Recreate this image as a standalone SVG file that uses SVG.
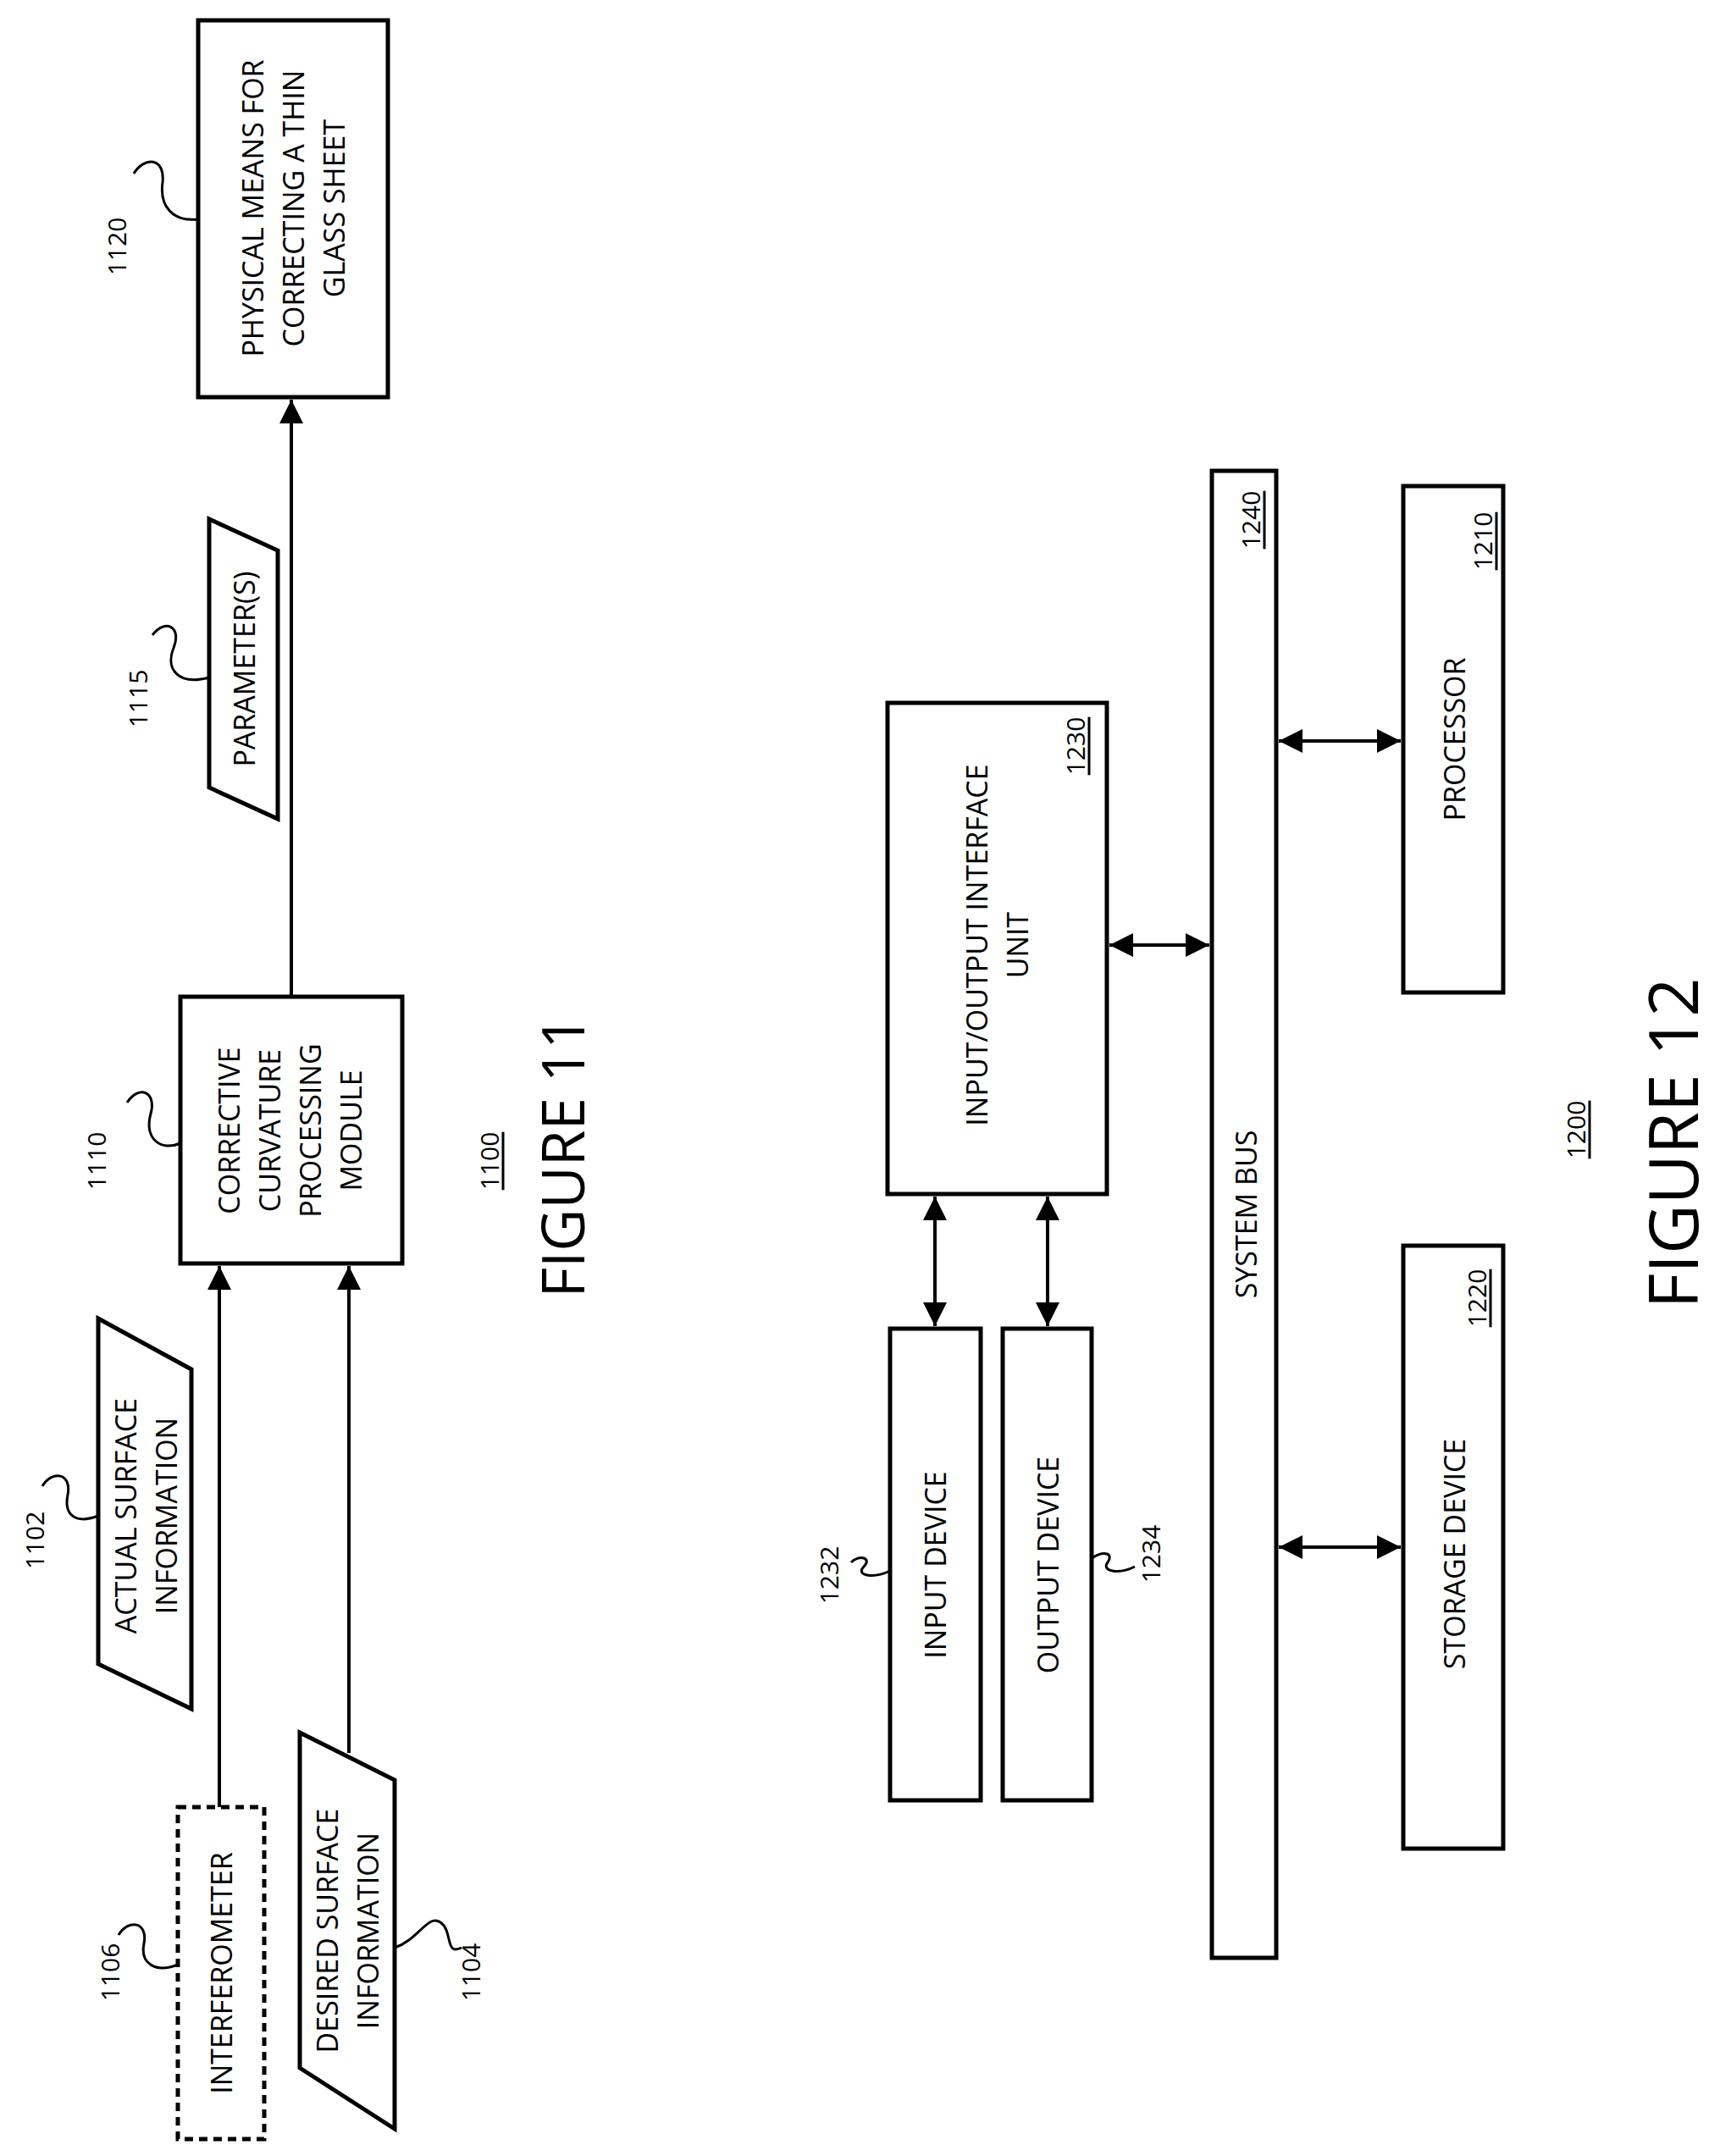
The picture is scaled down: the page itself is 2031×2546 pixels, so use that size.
<svg xmlns="http://www.w3.org/2000/svg" width="2031" height="2546" viewBox="0 0 2031 2546">
<defs>
<marker id="ah" viewBox="0 0 10 10" refX="10" refY="5" markerWidth="7" markerHeight="7" orient="auto-start-reverse" markerUnits="strokeWidth"><path d="M0,0L10,5L0,10z" fill="#000"/></marker>
<style>
.b{fill:#fff;stroke:#000;stroke-width:5}
.t{font-family:"Open Sans","Liberation Sans",sans-serif;font-size:34px;text-anchor:middle;dominant-baseline:central}
.l{font-family:"Open Sans","Liberation Sans",sans-serif;font-size:30px;text-anchor:middle;dominant-baseline:central}
.u{text-decoration:underline}
.c{fill:none;stroke:#000;stroke-width:4}
.s{fill:none;stroke:#000;stroke-width:3}
.f{font-family:"Open Sans","Liberation Sans",sans-serif;font-size:69px;text-anchor:middle;dominant-baseline:central}
</style>
</defs>
<rect width="2031" height="2546" fill="#fff"/>
<g id="connectors">
<line class="c" x1="344" y1="1177" x2="344" y2="472" marker-end="url(#ah)"/>
<line class="c" x1="259" y1="2134" x2="259" y2="1495" marker-end="url(#ah)"/>
<line class="c" x1="412" y1="2070" x2="412" y2="1495" marker-end="url(#ah)"/>
<line class="c" x1="1310" y1="1116" x2="1428" y2="1116" marker-start="url(#ah)" marker-end="url(#ah)"/>
<line class="c" x1="1510" y1="875" x2="1654" y2="875" marker-start="url(#ah)" marker-end="url(#ah)"/>
<line class="c" x1="1510" y1="1827" x2="1654" y2="1827" marker-start="url(#ah)" marker-end="url(#ah)"/>
<line class="c" x1="1104" y1="1413" x2="1104" y2="1566" marker-start="url(#ah)" marker-end="url(#ah)"/>
<line class="c" x1="1237" y1="1413" x2="1237" y2="1566" marker-start="url(#ah)" marker-end="url(#ah)"/>
</g>
<g id="n1120">
<rect class="b" x="234" y="24" width="224" height="445"/>
<text class="t" transform="translate(298,246) rotate(-90)">PHYSICAL MEANS FOR</text>
<text class="t" transform="translate(346,246) rotate(-90)">CORRECTING A THIN</text>
<text class="t" transform="translate(394,246) rotate(-90)">GLASS SHEET</text>
<path class="s" d="M158,205 C170,185 195,185 192,215 C188,245 205,262 234,259"/>
<text class="l" transform="translate(137,291) rotate(-90)">1120</text>
</g>
<g id="n1115">
<path class="b" d="M247,613 L328,650 L328,967 L247,930 Z"/>
<text class="t" transform="translate(288,790) rotate(-90)">PARAMETER(S)</text>
<path class="s" d="M180,750 C195,730 215,740 205,765 C195,790 210,810 247,800"/>
<text class="l" transform="translate(162,825) rotate(-90)">1115</text>
</g>
<g id="n1110">
<rect class="b" x="213" y="1177" width="262" height="315"/>
<text class="t" transform="translate(270,1335) rotate(-90)">CORRECTIVE</text>
<text class="t" transform="translate(318,1335) rotate(-90)">CURVATURE</text>
<text class="t" transform="translate(366,1335) rotate(-90)">PROCESSING</text>
<text class="t" transform="translate(414,1335) rotate(-90)">MODULE</text>
<path class="s" d="M150,1302 C165,1280 185,1290 178,1315 C170,1345 190,1360 213,1350"/>
<text class="l" transform="translate(113,1371) rotate(-90)">1110</text>
</g>
<g id="fig11">
<text class="l u" transform="translate(577,1371) rotate(-90)">1100</text>
<text class="f" transform="translate(663,1366) rotate(-90)">FIGURE 11</text>
</g>
<g id="n1102">
<path class="b" d="M116,1557 L226,1617 L226,2018 L116,1965 Z"/>
<text class="t" transform="translate(148,1790) rotate(-90)">ACTUAL SURFACE</text>
<text class="t" transform="translate(196,1790) rotate(-90)">INFORMATION</text>
<path class="s" d="M50,1755 C62,1735 85,1740 80,1765 C75,1790 90,1800 116,1790"/>
<text class="l" transform="translate(40,1819) rotate(-90)">1102</text>
</g>
<g id="n1106">
<rect class="b" x="210" y="2134" width="102" height="392" stroke-dasharray="10,7"/>
<text class="t" transform="translate(261,2330) rotate(-90)">INTERFEROMETER</text>
<path class="s" d="M140,2285 C152,2265 175,2270 170,2295 C165,2320 185,2330 210,2320"/>
<text class="l" transform="translate(129,2329) rotate(-90)">1106</text>
</g>
<g id="n1104">
<path class="b" d="M354,2046 L466,2102 L466,2514 L354,2442 Z"/>
<text class="t" transform="translate(386,2280) rotate(-90)">DESIRED SURFACE</text>
<text class="t" transform="translate(434,2280) rotate(-90)">INFORMATION</text>
<path class="s" d="M466,2300 C495,2290 505,2260 520,2270 C535,2280 525,2310 545,2300"/>
<text class="l" transform="translate(555,2329) rotate(-90)">1104</text>
</g>
<g id="n1230">
<rect class="b" x="1048" y="830" width="259" height="580"/>
<text class="t" transform="translate(1153,1116) rotate(-90)">INPUT/OUTPUT INTERFACE</text>
<text class="t" transform="translate(1201,1116) rotate(-90)">UNIT</text>
<text class="l u" transform="translate(1269,881) rotate(-90)">1230</text>
</g>
<g id="n1240">
<rect class="b" x="1431" y="556" width="76" height="1756"/>
<text class="t" transform="translate(1471,1434) rotate(-90)">SYSTEM BUS</text>
<text class="l u" transform="translate(1476,614) rotate(-90)">1240</text>
</g>
<g id="n1210">
<rect class="b" x="1657" y="574" width="118" height="598"/>
<text class="t" transform="translate(1717,873) rotate(-90)">PROCESSOR</text>
<text class="l u" transform="translate(1750,639) rotate(-90)">1210</text>
</g>
<g id="n1220">
<rect class="b" x="1657" y="1471" width="118" height="712"/>
<text class="t" transform="translate(1717,1835) rotate(-90)">STORAGE DEVICE</text>
<text class="l u" transform="translate(1743,1533) rotate(-90)">1220</text>
</g>
<g id="n1232">
<rect class="b" x="1051" y="1569" width="107" height="557"/>
<text class="t" transform="translate(1104,1848) rotate(-90)">INPUT DEVICE</text>
<path class="s" d="M1005,1845 C1015,1835 1030,1840 1020,1850 C1010,1860 1030,1865 1051,1855"/>
<text class="l" transform="translate(978,1860) rotate(-90)">1232</text>
</g>
<g id="n1234">
<rect class="b" x="1184" y="1569" width="105" height="557"/>
<text class="t" transform="translate(1237,1848) rotate(-90)">OUTPUT DEVICE</text>
<path class="s" d="M1289,1840 C1305,1830 1315,1835 1308,1845 C1300,1855 1320,1860 1340,1850"/>
<text class="l" transform="translate(1358,1835) rotate(-90)">1234</text>
</g>
<g id="fig12">
<text class="l u" transform="translate(1860,1334) rotate(-90)">1200</text>
<text class="f" style="font-size:81px" transform="translate(1973,1350) rotate(-90)">FIGURE 12</text>
</g>
</svg>
